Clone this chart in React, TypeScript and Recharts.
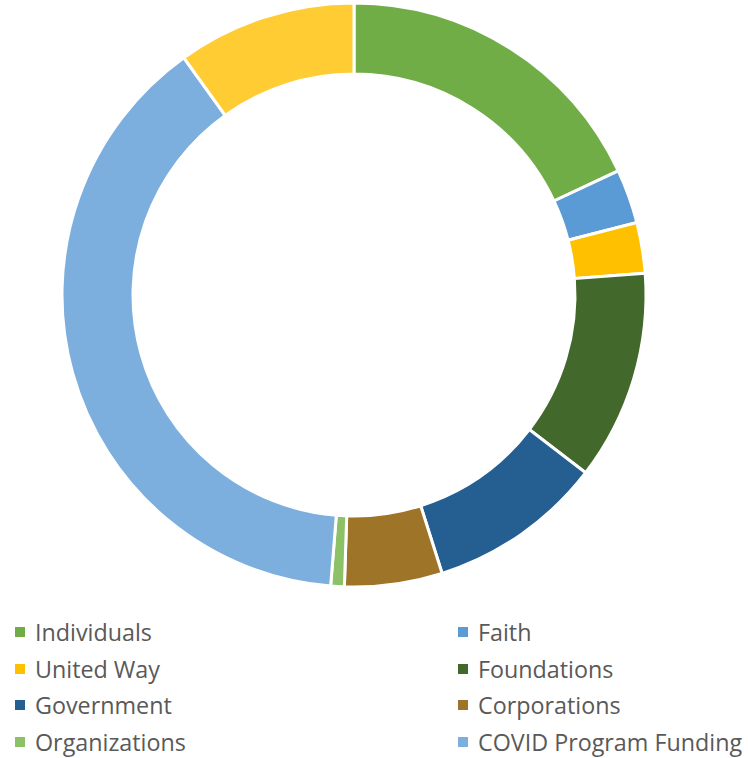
import React from 'react';
import { PieChart, Pie, Cell, Legend } from 'recharts';

const categories = [
  'Individuals',
  'Faith',
  'United Way',
  'Foundations',
  'Government',
  'Corporations',
  'Organizations',
  'COVID Program Funding',
  'Other',
];
const shares = [18.0, 3.0, 2.8, 11.6, 9.7, 5.4, 0.75, 38.8, 9.9];
const colors = [
  '#70AD47',
  '#5B9BD5',
  '#FFC000',
  '#43682B',
  '#255E91',
  '#9E7428',
  '#8CC168',
  '#7CAFDD',
  '#FFCD33',
];
// legend shows the first eight entries, two per row
const legendOrder = [0, 1, 2, 3, 4, 5, 6, 7];

const data = categories.map((name, i) => ({ name, value: shares[i] }));

const renderLegend = () => (
  <div
    style={{
      display: 'grid',
      gridTemplateColumns: '443px 305px',
      fontFamily: '"Open Sans", sans-serif',
      fontSize: 23.3,
      color: '#595959',
    }}
  >
    {legendOrder.map((i) => (
      <div
        key={categories[i]}
        style={{ display: 'flex', alignItems: 'center', height: 36.5, paddingLeft: 15, whiteSpace: 'nowrap' }}
      >
        <span
          style={{ width: 10, height: 10, background: colors[i], display: 'inline-block', marginRight: 10 }}
        />
        <span>{categories[i]}</span>
      </div>
    ))}
  </div>
);

const App = () => {
  return (
    <div style={{ position: 'absolute', left: 0, top: 0, width: 748, height: 758, background: '#fff' }}>
      <PieChart width={748} height={758} margin={{ top: 0, right: 0, bottom: 0, left: 0 }}>
        <Pie
          data={data}
          dataKey="value"
          nameKey="name"
          cx={354}
          cy={295}
          innerRadius={221}
          outerRadius={292}
          startAngle={90}
          endAngle={-270}
          stroke="#fff"
          strokeWidth={3}
          isAnimationActive={false}
        >
          {data.map((d, i) => (
            <Cell key={d.name} fill={colors[i]} />
          ))}
        </Pie>
        <Legend
          content={renderLegend}
          wrapperStyle={{ position: 'absolute', left: 0, top: 614, width: 748 }}
        />
      </PieChart>
    </div>
  );
};

export default App;
